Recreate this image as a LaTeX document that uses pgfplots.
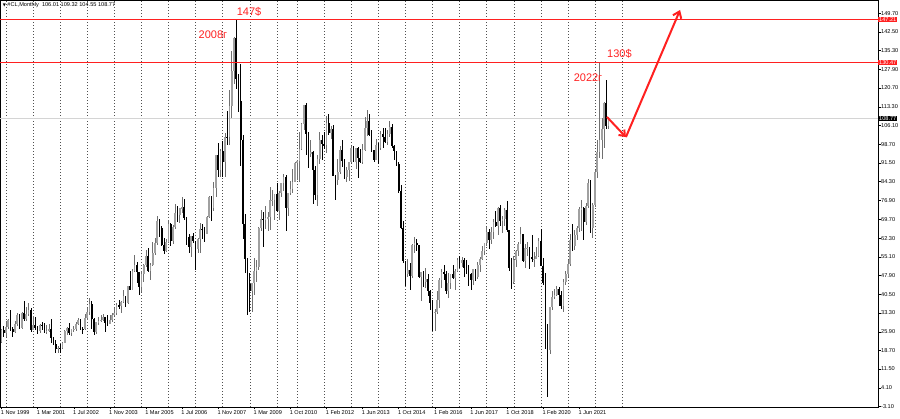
\documentclass[border=0pt]{standalone}
\usepackage{fontspec}
\setmainfont{Liberation Sans}
\newfontfamily\dejavu{DejaVu Sans}
\usepackage{pgfplots}
\pgfplotsset{compat=1.18}
\usepackage{pgfplotstable}
\usetikzlibrary{arrows.meta}
\definecolor{mtred}{HTML}{FF2020}
\definecolor{bullw}{HTML}{707070}
\definecolor{bullb}{HTML}{A0A0A0}
\definecolor{bidline}{HTML}{D4D4D4}
\definecolor{gridc}{HTML}{505050}

\pgfplotstableread{
i o h l c
0 21.8 27.0 21.5 26.8
1 26.8 28.0 24.0 25.6
2 25.6 30.0 23.9 27.6
3 27.6 31.0 27.0 30.4
4 30.4 34.4 26.1 26.9
5 26.9 27.8 23.8 25.7
6 25.7 30.2 25.3 29.0
7 29.0 33.1 28.3 32.5
8 32.5 32.9 27.2 27.4
9 27.4 33.8 27.2 33.1
10 33.1 37.8 30.2 30.8
11 30.8 35.7 30.2 32.7
12 32.7 37.0 32.0 34.4
13 34.4 35.0 25.7 26.8
14 26.8 32.2 26.7 28.7
15 28.7 31.6 26.6 27.4
16 27.4 28.0 24.9 26.3
17 26.3 29.1 25.4 28.5
18 28.5 29.9 26.5 28.4
19 28.4 29.4 25.4 26.3
20 26.3 28.4 25.0 26.4
21 26.4 28.8 25.9 27.2
22 27.2 31.0 21.4 23.4
23 23.4 23.8 20.8 21.2
24 21.2 22.6 17.5 19.4
25 19.4 20.4 17.5 19.8
26 19.8 21.2 17.8 19.5
27 19.5 21.9 19.1 21.7
28 21.7 26.7 21.6 26.3
29 26.3 27.8 24.5 27.3
30 27.3 29.4 24.8 25.3
31 25.3 27.1 24.4 26.9
32 26.9 28.2 25.9 27.0
33 27.0 29.8 26.2 28.9
34 28.9 31.3 28.6 30.5
35 30.5 31.0 26.6 27.2
36 27.2 27.9 25.0 26.9
37 26.9 32.7 26.6 31.2
38 31.2 35.0 30.5 33.5
39 33.5 39.0 32.5 36.6
40 36.6 38.0 27.0 31.0
41 31.0 31.4 24.8 25.8
42 25.8 29.8 25.0 29.6
43 29.6 31.6 28.6 30.2
44 30.2 32.4 29.6 30.5
45 30.5 32.8 30.3 31.6
46 31.6 31.7 25.9 29.2
47 29.2 32.4 28.3 29.1
48 29.1 32.4 28.8 30.4
49 30.4 33.4 29.8 32.5
50 32.5 35.3 32.2 33.1
51 33.1 37.0 32.3 36.2
52 36.2 38.3 34.7 35.8
53 35.8 38.0 33.3 37.4
54 37.4 42.3 37.2 39.9
55 39.9 40.0 35.4 37.1
56 37.1 43.9 36.9 43.8
57 43.8 49.4 42.0 42.1
58 42.1 50.5 42.0 49.6
59 49.6 55.7 49.2 51.8
60 51.8 53.1 45.0 49.1
61 49.1 49.3 40.3 43.5
62 43.5 49.4 41.2 48.2
63 48.2 52.1 45.1 51.8
64 51.8 57.6 51.0 55.4
65 55.4 58.3 49.1 49.7
66 49.7 52.6 46.2 52.0
67 52.0 60.9 51.3 56.5
68 56.5 62.3 55.9 60.6
69 60.6 70.9 59.6 68.9
70 68.9 69.9 62.6 66.2
71 66.2 66.9 59.1 59.8
72 59.8 62.2 56.1 57.3
73 57.3 61.9 56.9 61.0
74 61.0 69.2 60.5 67.9
75 67.9 68.2 59.3 61.4
76 61.4 67.3 60.0 66.6
77 66.6 75.4 66.0 71.9
78 71.9 75.0 68.6 71.3
79 71.3 74.1 68.3 73.9
80 73.9 78.4 72.0 74.4
81 74.4 77.6 69.5 70.3
82 70.3 70.4 59.5 62.9
83 62.9 64.0 56.6 58.7
84 58.7 63.2 54.9 63.1
85 63.1 64.4 60.6 61.1
86 61.1 61.3 49.9 58.1
87 58.1 62.3 56.5 61.8
88 61.8 68.1 56.5 65.9
89 65.9 67.9 61.9 65.7
90 65.7 66.8 61.0 64.0
91 64.0 70.9 63.8 70.7
92 70.7 78.8 70.1 78.2
93 78.2 78.8 69.0 74.0
94 74.0 84.1 72.8 81.7
95 81.7 94.7 78.4 94.5
96 94.5 99.3 86.0 88.7
97 88.7 96.8 85.9 96.0
98 96.0 100.1 86.1 91.8
99 91.8 103.1 86.1 101.8
100 101.8 111.8 98.6 101.6
101 101.6 119.9 98.7 113.5
102 113.5 135.1 109.1 127.4
103 127.4 140.4 122.1 140.0
104 140.0 147.2 120.4 124.1
105 124.1 126.0 111.3 115.5
106 115.5 130.0 90.5 100.6
107 100.6 102.3 62.0 67.8
108 67.8 71.6 48.7 54.4
109 54.4 54.6 32.4 44.6
110 44.6 48.6 33.6 41.7
111 41.7 43.1 33.6 44.8
112 44.8 54.7 40.1 49.7
113 49.7 54.0 45.4 51.1
114 51.1 66.6 50.0 66.3
115 66.3 73.4 65.0 69.9
116 69.9 72.5 59.0 69.5
117 69.5 75.0 66.0 70.0
118 70.0 72.5 65.1 70.6
119 70.6 82.0 65.5 77.0
120 77.0 81.0 75.0 77.3
121 77.3 79.5 69.5 79.4
122 79.4 83.9 72.4 72.9
123 72.9 80.5 69.5 79.7
124 79.7 83.9 78.3 83.8
125 83.8 87.2 80.6 86.2
126 86.2 87.0 65.0 74.0
127 74.0 80.0 70.8 79.9
128 80.0 84.4 79.0 81.4
129 81.4 89.0 80.0 84.1
130 84.1 92.0 84.0 91.4
131 91.4 92.6 85.1 92.2
132 92.2 103.4 84.1 97.0
133 97.0 106.9 96.5 106.7
134 106.7 113.9 104.5 113.9
135 113.9 114.8 94.6 102.7
136 102.7 103.4 89.7 95.4
137 95.4 100.6 93.9 95.7
138 95.7 96.1 75.7 88.8
139 88.8 90.5 77.1 79.2
140 79.2 94.7 75.0 93.2
141 93.2 103.4 91.1 100.4
142 100.4 102.4 92.5 98.8
143 98.8 103.7 97.0 98.5
144 98.5 109.8 95.4 107.1
145 107.1 110.6 102.3 103.0
146 103.0 106.0 100.7 104.9
147 104.9 106.3 86.3 86.5
148 86.5 86.7 77.3 85.0
149 85.0 92.9 83.1 88.1
150 88.1 98.3 87.4 96.5
151 96.5 100.4 90.0 92.2
152 92.2 92.9 85.3 86.2
153 86.2 90.0 84.1 88.9
154 88.9 92.0 84.5 91.8
155 91.8 98.2 91.5 97.5
156 97.5 98.2 92.0 92.0
157 92.0 97.4 89.3 97.2
158 97.2 97.8 85.6 93.5
159 93.5 97.0 91.5 92.0
160 92.0 99.0 91.1 96.6
161 96.6 109.3 96.2 105.0
162 105.0 112.2 102.2 107.7
163 107.7 110.7 101.9 102.3
164 102.3 104.4 95.7 96.4
165 96.4 96.5 91.8 92.7
166 92.7 100.8 92.5 98.4
167 98.4 99.3 91.2 97.5
168 97.5 104.0 96.5 102.6
169 102.6 105.2 97.4 101.6
170 101.6 105.0 99.2 99.7
171 99.7 104.4 98.6 102.7
172 102.7 107.7 101.7 105.4
173 105.4 106.5 97.4 98.2
174 98.2 98.7 92.5 96.0
175 96.0 96.0 90.4 91.2
176 91.2 91.8 79.8 80.5
177 80.5 82.9 65.7 66.2
178 66.2 69.0 52.7 53.3
179 53.3 53.5 43.6 48.2
180 48.2 54.2 47.1 49.8
181 49.8 52.5 42.0 47.6
182 47.6 59.9 47.0 59.6
183 59.6 62.6 56.5 60.3
184 60.3 61.8 57.4 59.5
185 59.5 59.7 46.7 47.1
186 47.1 49.3 37.8 49.2
187 49.2 49.4 43.2 45.1
188 45.1 50.9 43.1 46.6
189 46.6 48.4 40.0 41.7
190 41.7 42.0 34.5 37.0
191 37.0 38.4 26.2 33.6
192 33.6 34.8 26.1 33.8
193 33.8 41.9 32.9 38.3
194 38.3 46.8 35.2 45.9
195 45.9 50.2 43.0 49.1
196 49.1 51.7 46.2 48.3
197 48.3 49.5 40.6 41.6
198 41.6 48.8 39.2 44.7
199 44.7 48.3 42.5 48.2
200 48.2 51.9 46.6 46.9
201 46.9 50.2 42.2 49.4
202 49.4 54.5 49.0 53.7
203 53.7 55.2 50.7 52.8
204 52.8 54.9 51.2 54.0
205 54.0 54.6 47.1 50.6
206 50.6 53.8 48.2 49.3
207 49.3 52.0 43.8 48.3
208 48.3 48.9 42.1 46.0
209 46.0 50.4 44.3 50.2
210 50.2 50.4 45.6 47.2
211 47.2 52.9 46.5 51.7
212 51.7 54.8 49.1 54.4
213 54.4 59.1 53.8 57.4
214 57.4 60.5 55.8 60.4
215 60.4 66.7 59.1 64.7
216 64.7 66.0 58.1 61.6
217 61.6 66.6 60.2 64.9
218 64.9 69.6 62.0 68.6
219 68.6 72.9 66.5 67.0
220 67.0 74.5 63.6 74.2
221 74.2 75.3 67.0 68.8
222 68.8 71.0 64.4 69.8
223 69.8 73.9 67.0 73.3
224 73.3 76.9 64.8 65.3
225 65.3 65.3 49.4 50.9
226 50.9 54.6 42.4 45.4
227 45.4 55.4 44.4 53.8
228 53.8 57.8 51.2 57.2
229 57.2 60.7 55.4 60.1
230 60.1 66.6 60.0 63.9
231 63.9 63.9 53.0 53.5
232 53.5 59.9 50.6 58.5
233 58.5 60.9 55.2 58.6
234 58.6 58.8 50.5 55.1
235 55.1 63.4 53.0 54.1
236 54.1 56.9 51.0 54.2
237 54.2 58.7 54.1 55.2
238 55.2 62.3 55.1 61.1
239 61.1 65.7 51.3 51.6
240 51.6 54.7 44.0 44.8
241 44.8 48.7 19.3 20.5
242 20.5 29.1 0.5 18.8
243 18.8 35.5 17.3 35.5
244 35.5 41.6 34.4 39.3
245 39.3 42.5 38.7 40.3
246 40.3 43.8 39.8 42.6
247 42.6 43.4 36.1 40.2
248 40.2 41.9 34.9 35.8
249 35.8 46.3 33.6 45.3
250 45.3 49.4 44.1 48.5
251 48.5 53.9 47.3 52.2
252 52.2 63.8 51.6 61.5
253 61.5 67.9 57.3 59.2
254 59.2 65.5 57.6 63.6
255 63.6 67.0 61.6 66.3
256 66.3 74.5 64.6 73.5
257 73.5 77.0 65.0 74.0
258 74.0 74.5 61.7 68.5
259 68.5 76.0 67.6 75.0
260 75.0 85.4 74.2 83.6
261 83.6 85.0 64.4 66.2
262 66.2 76.1 62.4 75.2
263 75.2 88.8 74.3 88.2
264 88.2 100.5 85.7 95.7
265 95.7 130.5 93.5 100.3
266 100.3 109.2 92.9 104.7
267 104.7 115.4 97.2 114.7
268 114.7 123.7 104.6 105.8
269 106.01 109.32 104.55 108.77
}\ohlc

\begin{document}
\begin{tikzpicture}[font=\fontsize{5.6}{6.5}\selectfont]
\useasboundingbox (0,0) rectangle (900pt,419pt);
\begin{axis}[
  at={(0pt,12pt)}, anchor=south west,
  scale only axis, width=878pt, height=407pt,
  xmin=-0.66, xmax=388.4, ymin=-3.3, ymax=154.87,
  clip=false,
  unbounded coords=discard,
  axis line style={draw=black, line width=0.6pt},
  xtick={0,16,32,48,64,80,96,112,128,144,160,176,192,208,224,240,256},
  xticklabels={1 Nov 1999,1 Mar 2001,1 Jul 2002,1 Nov 2003,1 Mar 2005,1 Jul 2006,1 Nov 2007,1 Mar 2009,1 Oct 2010,1 Feb 2012,1 Jun 2013,1 Oct 2014,1 Feb 2016,1 Jun 2017,1 Oct 2018,1 Feb 2020,1 Jun 2021},
  xtick pos=bottom, ytick pos=right, yticklabel pos=right,
  tick align=outside, major tick length=2.5pt,
  tick style={black, line width=0.4pt},
  xticklabel style={anchor=north west, inner sep=0pt, xshift=-0.8pt, yshift=-1pt},
  ytick={149.7,142.5,135.3,127.9,120.7,113.3,106.1,98.7,91.5,84.3,76.9,69.7,62.3,55.1,47.9,40.5,33.3,25.9,18.7,11.5,4.1,-3.1},
  yticklabels={149.70,142.50,135.30,127.90,120.70,113.30,106.10,98.70,91.50,84.30,76.90,69.70,62.30,55.10,47.90,40.50,33.30,25.90,18.70,11.50,4.10,-3.10},
  yticklabel style={anchor=west, inner sep=0pt, xshift=0.5pt},
  extra x ticks={2,14,26,38,50,62,74,86,98,110,122,131,143,155,167,179,191,203,215,227,239,251,263,275},
  extra x tick labels={},
  extra x tick style={grid=major, major tick length=0pt,
    major grid style={gridc, dash pattern=on 1.2pt off 1.8pt, line width=0.4pt}},
]
% bid line
\addplot[bidline, line width=0.9pt, mark=none, forget plot] coordinates {(-0.66,108.77) (388.4,108.77)};

% bull wicks
\addplot[draw=none, mark=none, forget plot,
  error bars/.cd, y dir=both, y explicit, error mark=none,
  error bar style={draw=bullw, line width=0.55pt}]
  table[x=i, y expr={\thisrow{c}>=\thisrow{o} ? 0.5*(\thisrow{h}+\thisrow{l}) : nan},
        y error expr={0.5*(\thisrow{h}-\thisrow{l})}] {\ohlc};
% bull bodies
\addplot[draw=none, mark=none, forget plot,
  error bars/.cd, y dir=both, y explicit, error mark=none,
  error bar style={draw=bullb, line width=1.7pt}]
  table[x=i, y expr={\thisrow{c}>=\thisrow{o} ? 0.5*(\thisrow{o}+\thisrow{c}) : nan},
        y error expr={0.5*abs(\thisrow{c}-\thisrow{o})}] {\ohlc};
% bear wicks
\addplot[draw=none, mark=none, forget plot,
  error bars/.cd, y dir=both, y explicit, error mark=none,
  error bar style={draw=black, line width=0.55pt}]
  table[x=i, y expr={\thisrow{c}<\thisrow{o} ? 0.5*(\thisrow{h}+\thisrow{l}) : nan},
        y error expr={0.5*(\thisrow{h}-\thisrow{l})}] {\ohlc};
% bear bodies
\addplot[draw=none, mark=none, forget plot,
  error bars/.cd, y dir=both, y explicit, error mark=none,
  error bar style={draw=black, line width=1.7pt}]
  table[x=i, y expr={\thisrow{c}<\thisrow{o} ? 0.5*(\thisrow{o}+\thisrow{c}) : nan},
        y error expr={0.5*abs(\thisrow{c}-\thisrow{o})}] {\ohlc};

% horizontal levels
\addplot[mtred, line width=1.2pt, mark=none, forget plot] coordinates {(-0.66,147.21) (388.4,147.21)};
\addplot[mtred, line width=1.2pt, mark=none, forget plot] coordinates {(-0.66,130.47) (388.4,130.47)};

% price tags
\node[fill=mtred, text=white, anchor=west, inner xsep=1pt, inner ysep=0.6pt] at (axis cs:388.4,147.21) {147.21};
\node[fill=mtred, text=white, anchor=west, inner xsep=1pt, inner ysep=0.6pt] at (axis cs:388.4,130.47) {130.47};
\node[fill=black, text=white, anchor=west, inner xsep=1pt, inner ysep=0.6pt] at (axis cs:388.4,108.77) {108.77};

% annotations
\node[mtred, font=\fontsize{11}{12}\selectfont, inner sep=0pt] at (axis cs:109.7,150.2) {147\$};
\node[mtred, font=\fontsize{11}{12}\selectfont, inner sep=0pt] at (axis cs:93.7,141.3) {2008г};
\node[mtred, font=\fontsize{11}{12}\selectfont, inner sep=0pt] at (axis cs:273.8,134.1) {130\$};
\node[mtred, font=\fontsize{11}{12}\selectfont, inner sep=0pt] at (axis cs:259.9,124.7) {2022г};

% arrows
\draw[mtred, line width=2pt, -{Straight Barb[length=5pt, width=8pt]}] (axis cs:268.3,109.4) -- (axis cs:276.7,101.6);
\draw[mtred, line width=2pt, -{Straight Barb[length=6pt, width=9pt]}] (axis cs:276.7,101.6) -- (axis cs:300.7,151.0);

% header
\node[anchor=west, inner sep=0pt] at (rel axis cs:0.003,0.987) {{\dejavu\fontsize{4}{5}\selectfont ▼}\ \#CL,Monthly\ \ 106.01\ 109.32\ 104.55\ 108.77};
\end{axis}
\end{tikzpicture}
\end{document}
